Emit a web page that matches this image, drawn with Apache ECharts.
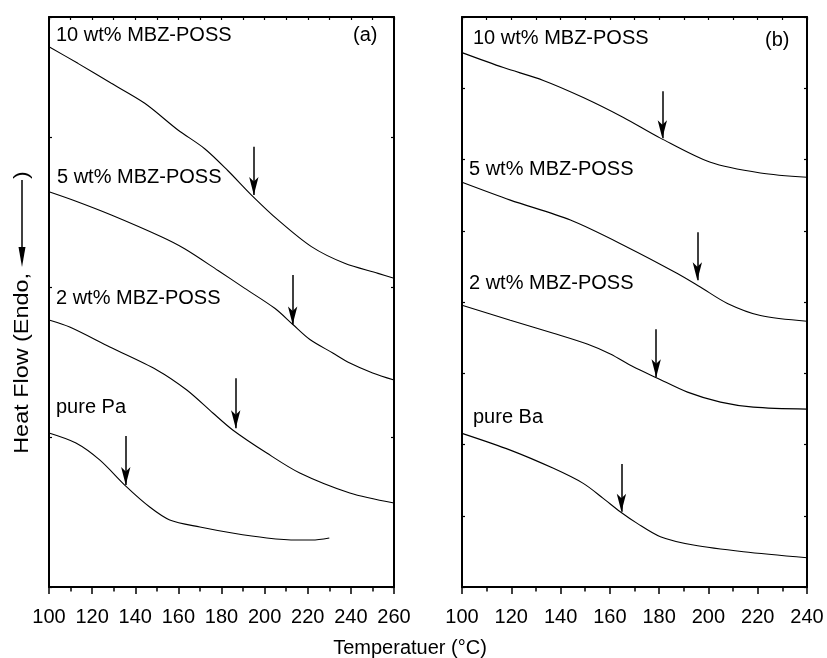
<!DOCTYPE html>
<html>
<head>
<meta charset="utf-8">
<title>DSC traces of MBZ-POSS composites</title>
<script src="https://cdn.jsdelivr.net/npm/echarts@6/dist/echarts.min.js"></script>
<style>
  html, body { margin: 0; padding: 0; background: #fff; }
  #chart { width: 827px; height: 658px; }
</style>
</head>
<body>
<div id="chart"></div>
<script>
// ---- Panel (a): Pa-based samples, temperature (°C) vs heat flow (a.u.) ----
const aPureT  = [100, 112.5, 123.5, 136, 146.7, 156, 170, 185, 201, 215, 222, 230];
const aPureH  = [1.027, 0.96, 0.847, 0.667, 0.533, 0.447, 0.40, 0.36, 0.327, 0.313, 0.313, 0.327];
const a2T     = [100, 109.6, 128.2, 150, 163.9, 176, 185.2, 201, 216.3, 239.5, 260];
const a2H     = [1.78, 1.733, 1.60, 1.447, 1.313, 1.16, 1.047, 0.893, 0.76, 0.627, 0.56];
const a5T     = [100, 111.9, 128.9, 152.1, 162.9, 178.4, 190.8, 204.7, 213.1, 221, 231.6, 239.5, 250.1, 260];
const a5H     = [2.635, 2.575, 2.48, 2.335, 2.255, 2.11, 1.991, 1.858, 1.75, 1.65, 1.56, 1.493, 1.427, 1.38];
const a10T    = [100, 113.4, 128.9, 144.4, 159.8, 172.2, 183, 193.9, 206.2, 221.7, 237.1, 252.6, 260];
const a10H    = [3.602, 3.491, 3.358, 3.225, 3.047, 2.922, 2.775, 2.613, 2.447, 2.269, 2.158, 2.091, 2.058];
// Tg markers in panel (a): temperature, arrow tail, arrow tip
const aArrowT   = [135.6, 186.6, 213, 195];
const aArrowTop = [1.007, 1.391, 2.08, 2.935];
const aArrowTip = [0.68, 1.058, 1.75, 2.613];

// ---- Panel (b): Ba-based samples ----
const bPureT  = [100, 119.6, 137.1, 149.2, 157.3, 164.2, 171.1, 180.5, 193.9, 214.2, 240];
const bPureH  = [2.156, 1.921, 1.665, 1.454, 1.244, 1.056, 0.893, 0.706, 0.589, 0.495, 0.411];
const b2T     = [100, 119.6, 137.1, 150.8, 160.2, 169.5, 179.3, 191.5, 204.9, 218.2, 240];
const b2H     = [3.955, 3.745, 3.562, 3.41, 3.27, 3.09, 2.931, 2.735, 2.595, 2.525, 2.497];
const b5T     = [100, 119.6, 144, 167.1, 187.4, 196.7, 207.7, 221.1, 240];
const b5H     = [5.68, 5.43, 5.15, 4.77, 4.40, 4.21, 3.98, 3.81, 3.73];
const b10T    = [100, 116.8, 133, 149.2, 165.5, 180.5, 200.8, 221.1, 240];
const b10H    = [7.50, 7.29, 7.11, 6.87, 6.59, 6.30, 5.96, 5.81, 5.75];
const bArrowT   = [164.7, 178.8, 195.5, 181.3];
const bArrowTop = [1.725, 3.619, 4.979, 6.957];
const bArrowTip = [1.056, 2.945, 4.306, 6.297];

const sampleNames = ['pure', '2 wt% MBZ-POSS', '5 wt% MBZ-POSS', '10 wt% MBZ-POSS'];
const xRangeA = [100, 260];
const xRangeB = [100, 240];

const FONT = "'Liberation Sans', Arial, sans-serif";
const BLACK = '#000';

function pairs(xs, ys) { return xs.map((x, i) => [x, ys[i]]); }

function curve(name, xs, ys, gi, arrowX, arrowTop, arrowTip) {
  return {
    name: name,
    type: 'line',
    xAxisIndex: gi * 2,
    yAxisIndex: gi * 2,
    data: pairs(xs, ys),
    smooth: 0.3,
    showSymbol: false,
    symbol: 'none',
    lineStyle: { color: BLACK, width: 1.1 },
    silent: true,
    markLine: {
      silent: true,
      symbol: ['none', 'arrow'],
      symbolSize: [7, 18],
      label: { show: false },
      lineStyle: { color: BLACK, width: 1.5, type: 'solid' },
      itemStyle: { color: BLACK },
      data: [[{ coord: [arrowX, arrowTop] }, { coord: [arrowX, arrowTip] }]]
    }
  };
}

function bottomAxis(gi, range) {
  return {
    type: 'value', gridIndex: gi, position: 'bottom',
    min: range[0], max: range[1], interval: 20,
    axisLine: { show: true, onZero: false, lineStyle: { color: BLACK, width: 2 } },
    axisTick: { show: true, inside: false, length: 7, lineStyle: { color: BLACK, width: 1.5 } },
    minorTick: { show: true, splitNumber: 2, length: 4.5, lineStyle: { color: BLACK, width: 1.5 } },
    axisLabel: { show: true, color: BLACK, fontFamily: FONT, fontSize: 20, margin: 20 },
    splitLine: { show: false }
  };
}
function topAxis(gi, range) {
  return {
    type: 'value', gridIndex: gi, position: 'top',
    min: range[0], max: range[1], interval: 10,
    axisLine: { show: true, onZero: false, lineStyle: { color: BLACK, width: 2 } },
    axisTick: { show: true, inside: true, length: 3, lineStyle: { color: BLACK, width: 1.2 } },
    axisLabel: { show: false },
    splitLine: { show: false }
  };
}
function sideAxis(gi, pos, max) {
  return {
    type: 'value', gridIndex: gi, position: pos,
    min: 0, max: max, interval: 1,
    axisLine: { show: true, onZero: false, lineStyle: { color: BLACK, width: 2 } },
    axisTick: { show: true, inside: true, length: 3, lineStyle: { color: BLACK, width: 1.2 } },
    axisLabel: { show: false },
    splitLine: { show: false }
  };
}

const labelStyle = { fill: BLACK, font: '20px ' + FONT, textVerticalAlign: 'middle' };
function note(text, x, y) {
  return { type: 'text', left: x, top: y - 11, style: Object.assign({ text: text }, labelStyle), silent: true };
}

const chart = echarts.init(document.getElementById('chart'), null, { renderer: 'canvas' });
chart.setOption({
  animation: false,
  backgroundColor: '#fff',
  grid: [
    { left: 49, top: 17, width: 345, height: 570 },
    { left: 462, top: 17, width: 345, height: 570 }
  ],
  xAxis: [
    bottomAxis(0, xRangeA), topAxis(0, xRangeA),
    bottomAxis(1, xRangeB), topAxis(1, xRangeB)
  ],
  yAxis: [
    sideAxis(0, 'left', 3.8), sideAxis(0, 'right', 3.8),
    sideAxis(1, 'left', 8), sideAxis(1, 'right', 8)
  ],
  series: [
    curve('pure Pa', aPureT, aPureH, 0, aArrowT[0], aArrowTop[0], aArrowTip[0]),
    curve(sampleNames[1] + ' (a)', a2T, a2H, 0, aArrowT[1], aArrowTop[1], aArrowTip[1]),
    curve(sampleNames[2] + ' (a)', a5T, a5H, 0, aArrowT[2], aArrowTop[2], aArrowTip[2]),
    curve(sampleNames[3] + ' (a)', a10T, a10H, 0, aArrowT[3], aArrowTop[3], aArrowTip[3]),
    curve('pure Ba', bPureT, bPureH, 1, bArrowT[0], bArrowTop[0], bArrowTip[0]),
    curve(sampleNames[1] + ' (b)', b2T, b2H, 1, bArrowT[1], bArrowTop[1], bArrowTip[1]),
    curve(sampleNames[2] + ' (b)', b5T, b5H, 1, bArrowT[2], bArrowTop[2], bArrowTip[2]),
    curve(sampleNames[3] + ' (b)', b10T, b10H, 1, bArrowT[3], bArrowTop[3], bArrowTip[3])
  ],
  graphic: [
    // curve labels, panel (a)
    note(sampleNames[3], 56, 36),
    note('(a)', 353, 36),
    note(sampleNames[2], 57, 178),
    note(sampleNames[1], 56, 299),
    note('pure Pa', 56, 408),
    // curve labels, panel (b)
    note(sampleNames[3], 473, 39),
    note('(b)', 765, 41),
    note(sampleNames[2], 469, 170),
    note(sampleNames[1], 469, 284),
    note('pure Ba', 473, 418),
    // x axis title
    {
      type: 'text', silent: true,
      x: 410, y: 648,
      style: { text: 'Temperatuer (°C)', fill: BLACK, font: '20px ' + FONT, textAlign: 'center', textVerticalAlign: 'middle' }
    },
    // y axis title: "Heat Flow (Endo, ↓ )" set vertically
    {
      type: 'text', silent: true,
      x: 22, y: 273, rotation: Math.PI / 2, scaleX: 1.17,
      style: { text: 'Heat Flow (Endo,', fill: BLACK, font: '20px ' + FONT, textAlign: 'right', textVerticalAlign: 'middle' }
    },
    {
      type: 'line', silent: true,
      shape: { x1: 22, y1: 180, x2: 22, y2: 252 },
      style: { stroke: BLACK, lineWidth: 1.5 }
    },
    {
      type: 'polygon', silent: true,
      shape: { points: [[18.5, 247], [25.5, 247], [22, 267]] },
      style: { fill: BLACK }
    },
    {
      type: 'text', silent: true,
      x: 22, y: 175, rotation: Math.PI / 2, scaleX: 1.17,
      style: { text: ')', fill: BLACK, font: '20px ' + FONT, textAlign: 'center', textVerticalAlign: 'middle' }
    }
  ]
});
</script>
</body>
</html>
